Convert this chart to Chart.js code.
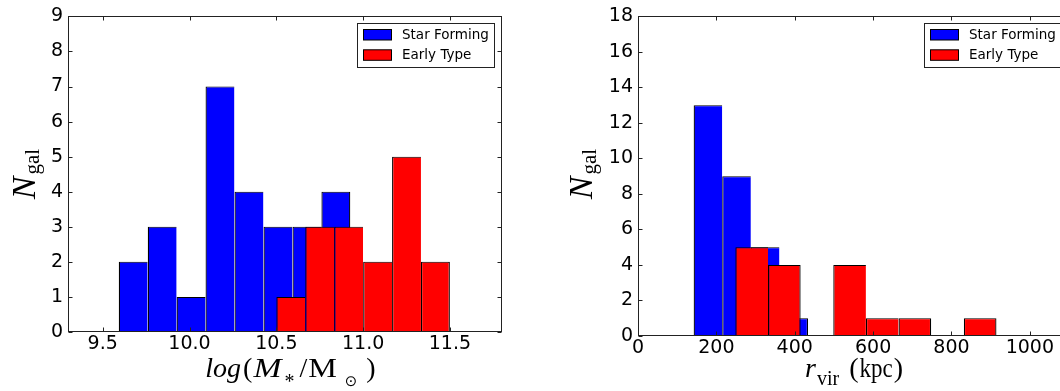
<!DOCTYPE html>
<html>
<head>
<meta charset="utf-8">
<script src="https://cdn.jsdelivr.net/npm/chart.js@4"></script>
<style>
  html, body { margin: 0; padding: 0; background: #fff; overflow: hidden; width: 1060px; height: 391px; }
  #massBox { position: absolute; left: 0; top: 0; width: 530px; height: 391px; }
  #rvirBox { position: absolute; left: 530px; top: 0; width: 570px; height: 391px; }
</style>
</head>
<body>
<div id="massBox"><canvas id="massChart" width="530" height="391"></canvas></div>
<div id="rvirBox"><canvas id="rvirChart" width="570" height="391"></canvas></div>
<script>
// Stellar-mass histogram: bin edges (log M*/Msun) and galaxy counts per bin
const massEdgesSF = [9.592, 9.759, 9.926, 10.092, 10.259, 10.426, 10.593, 10.760, 10.926];
const massCountsSF = [2, 3, 1, 7, 4, 3, 3, 4];
const massEdgesET = [10.5, 10.667, 10.833, 11.0, 11.167, 11.333, 11.5];
const massCountsET = [1, 3, 3, 2, 5, 2];
const massTicks = [9.5, 10.0, 10.5, 11.0, 11.5];
const massCountTicks = [0, 1, 2, 3, 4, 5, 6, 7, 8, 9];

// Virial-radius histogram: bin edges (kpc) and galaxy counts per bin
const rvirEdgesSF = [142, 215, 288, 361, 434];
const rvirCountsSF = [13, 9, 5, 1];
const rvirEdgesET = [248.5, 331.8, 415.1, 498.4, 581.7, 665, 748.3, 831.6, 914.9];
const rvirCountsET = [5, 4, 0, 4, 1, 1, 0, 1];
const rvirTicks = [0, 200, 400, 600, 800, 1000];
const rvirCountTicks = [0, 2, 4, 6, 8, 10, 12, 14, 16, 18];

const seriesNames = ['Star Forming', 'Early Type'];
const seriesColors = ['#0000ff', '#ff0000'];

Chart.defaults.font.family = "'DejaVu Sans', sans-serif";
Chart.defaults.color = '#000';

// bar centres at the middle of each bin
function histPoints(edges, counts) {
  return counts.map((c, i) => ({ x: (edges[i] + edges[i + 1]) / 2, y: c }));
}

// one shared dark edge between neighbouring bars, full outline on the outside
function edgeWidths(counts) {
  return ctx => {
    const i = ctx.dataIndex;
    const closing = i === counts.length - 1 || counts[i + 1] === 0;
    return { left: 1.25, top: 1, bottom: 0, right: closing ? 1.25 : 0 };
  };
}

function histDataset(label, color, edges, counts, axisId, order) {
  return {
    label: label,
    data: histPoints(edges, counts),
    xAxisID: axisId,
    backgroundColor: color,
    borderColor: '#000',
    borderWidth: edgeWidths(counts),
    borderSkipped: false,
    inflateAmount: 0,
    barPercentage: 1,
    categoryPercentage: 1,
    grouped: false,
    order: order
  };
}

// draws a run of text pieces with their own fonts, offsets and widths
function drawRich(ctx, segs, x, y) {
  let total = 0;
  const widths = segs.map(s => {
    ctx.font = s.font;
    const w = ctx.measureText(s.t).width * (s.sx || 1);
    total += (s.gap || 0) + w;
    return w;
  });
  let cx = x - total / 2;
  segs.forEach((s, i) => {
    cx += s.gap || 0;
    ctx.save();
    ctx.font = s.font;
    ctx.textBaseline = 'alphabetic';
    ctx.textAlign = 'left';
    ctx.translate(cx, y + (s.dy || 0));
    ctx.scale(s.sx || 1, 1);
    ctx.fillText(s.t, 0, 0);
    ctx.restore();
    cx += widths[i];
  });
}

const I28 = 'italic 28px "Liberation Serif"';
const R28 = '28px "Liberation Serif"';
const R20 = '20px "Liberation Serif"';
const R21 = '21px "Liberation Serif"';
const I34 = 'italic 34px "Liberation Serif"';

const ngalTitle = [
  { t: 'N', font: I34 },
  { t: 'gal', font: R21, dy: 3.5, gap: 2 }
];
const massTitle = [
  { t: 'log', font: I28 },
  { t: '(', font: R28, gap: 2 },
  { t: 'M', font: I28, sx: 1.2, gap: 1 },
  { t: '*', font: R20, dy: 11, gap: 3 },
  { t: '/', font: R28, gap: 5 },
  { t: 'M', font: R28, sx: 1.15, gap: 1 },
  { t: '\u2299', font: '15px "DejaVu Sans"', dy: 9, gap: 8 },
  { t: ')', font: R28, gap: 9 }
];
const rvirTitle = [
  { t: 'r', font: I28 },
  { t: 'vir', font: R20, dy: 8, gap: 1 },
  { t: '(', font: R28, gap: 10 },
  { t: 'kpc', font: R28, sx: 0.82, gap: 1 },
  { t: ')', font: R28, gap: 1 }
];

// frame, inward ticks, legend box and axis titles
function decorations(cfg) {
  return {
    id: 'decorations',
    afterDraw(chart) {
      const ctx = chart.ctx;
      const a = chart.chartArea;
      const L = Math.round(a.left) + 0.5, R = Math.round(a.right) - 0.5;
      const T = Math.round(a.top) + 0.5, B = Math.round(a.bottom) - 0.5;
      ctx.save();
      ctx.strokeStyle = '#222';
      ctx.lineWidth = 1;
      ctx.beginPath();
      const xs = chart.scales.x, ys = chart.scales.y;
      xs.ticks.forEach(t => {
        const p = Math.round(xs.getPixelForValue(t.value)) + 0.5;
        ctx.moveTo(p, B); ctx.lineTo(p, B - 4);
        ctx.moveTo(p, T); ctx.lineTo(p, T + 4);
      });
      ys.ticks.forEach(t => {
        const p = Math.round(ys.getPixelForValue(t.value)) + 0.5;
        ctx.moveTo(L, p); ctx.lineTo(L + 4, p);
        ctx.moveTo(R, p); ctx.lineTo(R - 4, p);
      });
      ctx.stroke();
      ctx.strokeRect(L, T, R - L, B - T);

      // legend
      const bw = 137, bh = 44;
      const bx = Math.round(a.right) - 8 - bw + 0.5, by = Math.round(a.top) + 7 + 0.5;
      ctx.fillStyle = '#fff';
      ctx.fillRect(bx, by, bw, bh);
      ctx.strokeStyle = '#222';
      ctx.strokeRect(bx, by, bw, bh);
      seriesNames.forEach((name, k) => {
        const sy = by + 6 + k * 20.3;
        ctx.fillStyle = seriesColors[k];
        ctx.fillRect(bx + 6, sy, 28, 10.5);
        ctx.strokeStyle = '#000';
        ctx.strokeRect(bx + 6, sy, 28, 10.5);
        ctx.fillStyle = '#000';
        ctx.font = '13.5px "DejaVu Sans"';
        ctx.textBaseline = 'middle';
        ctx.textAlign = 'left';
        ctx.fillText(name, bx + 44.5, sy + 5.8);
      });

      // axis titles
      ctx.fillStyle = '#000';
      drawRich(ctx, cfg.xTitle, cfg.xTitleX, cfg.xTitleY);
      ctx.save();
      ctx.translate(cfg.yTitleX, cfg.yTitleY);
      ctx.rotate(-Math.PI / 2);
      drawRich(ctx, ngalTitle, 0, 0);
      ctx.restore();
      ctx.restore();
    }
  };
}

function makeChart(canvasId, sets, xMin, xMax, xTicks, xFmt, yTicks, box, cfg) {
  const tickSetter = list => scale => { scale.ticks = list.map(v => ({ value: v })); };
  return new Chart(document.getElementById(canvasId), {
    type: 'bar',
    data: {
      datasets: [
        histDataset(seriesNames[0], seriesColors[0], sets.sfEdges, sets.sfCounts, 'x', 1),
        histDataset(seriesNames[1], seriesColors[1], sets.etEdges, sets.etCounts, 'x2', 0)
      ]
    },
    options: {
      responsive: false,
      animation: false,
      devicePixelRatio: 1,
      layout: { padding: { top: box.top, right: box.right, left: 0, bottom: 0 } },
      plugins: { legend: { display: false }, tooltip: { enabled: false } },
      scales: {
        x: {
          type: 'linear', position: 'bottom', min: xMin, max: xMax, offset: false,
          afterBuildTicks: tickSetter(xTicks),
          afterFit: s => { s.height = box.xHeight; },
          grid: { display: false, drawTicks: false, offset: false },
          border: { display: false },
          ticks: { padding: 1, font: { size: 19 }, color: '#000', maxRotation: 0, autoSkip: false,
                   callback: v => xFmt(v) }
        },
        x2: {
          type: 'linear', axis: 'x', position: 'bottom', display: false, min: xMin, max: xMax,
          offset: false, grid: { offset: false },
          afterBuildTicks: tickSetter(xTicks)
        },
        y: {
          type: 'linear', min: yTicks[0], max: yTicks[yTicks.length - 1],
          afterBuildTicks: tickSetter(yTicks),
          afterFit: s => { s.width = box.yWidth; },
          grid: { display: false, drawTicks: false },
          border: { display: false },
          ticks: { padding: 5, font: { size: 19 }, color: '#000', autoSkip: false }
        }
      }
    },
    plugins: [decorations(cfg)]
  });
}

makeChart('massChart',
  { sfEdges: massEdgesSF, sfCounts: massCountsSF, etEdges: massEdgesET, etCounts: massCountsET },
  9.3, 11.8, massTicks, v => v.toFixed(1), massCountTicks,
  { top: 13, right: 28, yWidth: 68, xHeight: 59 },
  { xTitle: massTitle, xTitleX: 290.5, xTitleY: 377, yTitleX: 35, yTitleY: 174 });

makeChart('rvirChart',
  { sfEdges: rvirEdgesSF, sfCounts: rvirCountsSF, etEdges: rvirEdgesET, etCounts: rvirCountsET },
  0, 1100, rvirTicks, v => String(v), rvirCountTicks,
  { top: 14, right: 31, yWidth: 108, xHeight: 55 },
  { xTitle: rvirTitle, xTitleX: 324, xTitleY: 377, yTitleX: 62, yTitleY: 174 });
</script>
</body>
</html>
